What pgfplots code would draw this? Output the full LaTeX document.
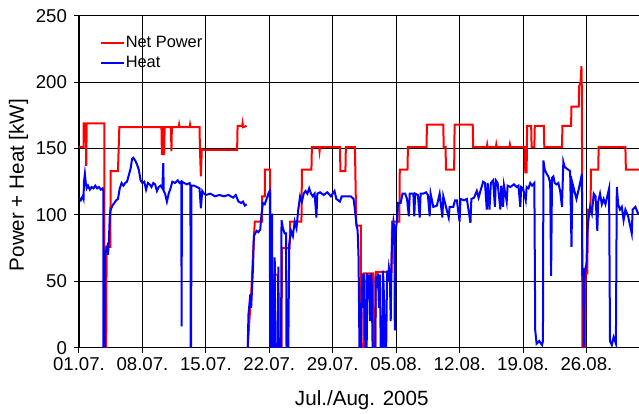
\documentclass[border=0pt]{standalone}
\usepackage{fontspec}
\setmainfont{Liberation Sans}
\usepackage{pgfplots}
\pgfplotsset{compat=1.18}
\definecolor{netred}{RGB}{255,0,0}
\definecolor{heatblue}{RGB}{0,0,255}
\begin{document}
\begin{tikzpicture}
\begin{axis}[
  name=ax,
  scale only axis,
  width=280pt, height=166pt,
  xmin=0, xmax=61.8, ymin=0, ymax=250,
  axis lines=left,
  axis line style={-, line width=0.6pt},
  xtick={0,7,14,21,28,35,42,49,56},
  xticklabels={01.07.,08.07.,15.07.,22.07.,29.07.,05.08.,12.08.,19.08.,26.08.},
  ytick={0,50,100,150,200,250},
  tick align=outside,
  major tick length=2.5pt,
  tick style={black, line width=0.5pt},
  grid=major,
  major grid style={black, line width=0.5pt},
  /pgf/number format/assume math mode=true,
  tick label style={font=\fontsize{9.3}{11}\selectfont},
  xticklabel style={yshift=1pt},
  label style={font=\fontsize{10.3}{12}\selectfont},
  ylabel={Power + Heat [kW]},
  xlabel={Jul./Aug. 2005},
  ylabel style={at={(axis description cs:-0.108,0.49)}, anchor=center},
  xlabel style={at={(axis description cs:0.505,-0.158)}, anchor=center},
  unbounded coords=jump,
  legend style={at={(axis description cs:0.036,0.945)}, anchor=north west,
    draw=none, fill=none, font=\fontsize{8.2}{9}\selectfont,
    row sep=0.8pt, inner xsep=0pt, inner ysep=0pt,
    nodes={inner xsep=0.6pt, inner ysep=1pt}},
  legend cell align=left,
  clip=true,
]
\addplot[netred, line width=1pt, legend image code/.code={\draw[netred, line width=1pt] (0pt,0pt) -- (11.5pt,0pt);}] coordinates {
(0,151) (0.5,151) (0.5,169) (0.75,169) (0.8,137) (0.85,169) (2.8,169) (2.8,0) (3.0,0) (3.05,76) (3.45,76) (3.5,133) (4.3,133) (4.45,166)
(9.1,166) (9.15,145) (9.2,166) (9.35,166) (9.4,145) (9.45,166) (10.15,166) (10.2,148) (10.25,166) (11.0,166) (11.05,168) (11.1,166) (12.2,166) (12.25,168) (12.3,166) (13.3,166) (13.35,149) (13.45,129) (13.55,149) (17.45,149) (17.5,167) (18.0,167) (18.05,169) (18.1,166) (18.5,167)
(18.55,nan)
(18.62,0) (18.8,20) (19.0,40) (19.2,70) (19.4,95) (20.2,95) (20.2,114) (20.5,114) (20.5,134) (21.1,134) (21.15,0) (21.4,0) (21.4,55) (21.95,55) (22.0,0) (22.35,0) (22.4,75) (23.25,75) (23.3,95) (24.55,95) (24.6,134) (25.65,134) (25.7,151) (26.5,151) (26.55,148) (26.6,151) (28.8,151) (28.85,133) (29.4,133) (29.45,151) (30.45,151) (30.6,92) (31.1,92) (31.15,0)
(31.4,0) (31.45,56) (32.45,56) (32.5,0) (32.7,0) (32.75,57) (34.5,57) (34.55,95) (35.35,95) (35.4,134) (36.25,134) (36.3,151) (38.35,151) (38.4,168) (40.2,168) (40.25,151) (40.45,151) (40.5,134) (41.4,134) (41.45,168) (43.45,168) (43.5,151)
(45.0,151) (45.05,153) (45.1,151) (46.0,151) (46.05,153) (46.1,151) (47.5,151) (47.55,153) (47.6,151) (49.2,151) (49.25,132) (49.4,132) (49.45,167) (49.9,167) (49.95,151) (50.25,151) (50.3,167) (51.3,167) (51.35,151) (53.3,151) (53.35,167) (54.3,167) (54.35,181.5) (55.15,181.5) (55.2,197) (55.35,200) (55.45,212) (55.5,190) (55.55,0) (55.85,0) (55.9,56) (56.1,56) (56.15,104) (56.45,104) (56.5,134) (57.3,134) (57.35,151) (60.3,151) (60.35,134) (62,134)
};
\addlegendentry{Net Power}
\addplot[heatblue, line width=1pt, legend image code/.code={\draw[heatblue, line width=1pt] (0pt,0pt) -- (11.5pt,0pt);}] coordinates {
(0,113) (0.2,111) (0.4,114) (0.5,112) (0.55,125) (0.65,131) (0.75,124) (0.85,120) (1.0,122) (1.2,119) (1.4,121) (1.6,120) (1.8,122) (2.0,120) (2.2,121) (2.4,119) (2.6,120) (2.68,118) (2.7,0) (2.85,0) (2.9,72) (3.1,76) (3.2,70) (3.3,80) (3.4,100) (3.5,104) (3.7,107) (3.9,109) (4.1,111) (4.3,112) (4.5,120) (4.7,124) (4.9,122) (5.1,124) (5.3,125) (5.5,130) (5.7,135) (5.85,142) (6.0,143) (6.2,141) (6.4,138) (6.6,134) (6.8,126) (7.0,124) (7.2,125) (7.4,119) (7.6,124) (7.8,123) (8.0,121) (8.2,124) (8.4,123) (8.6,118) (8.8,121) (9.0,122) (9.2,120) (9.3,139) (9.35,118) (9.5,116) (9.7,110) (9.9,116) (10.1,120) (10.3,125) (10.6,124) (10.9,126) (11.1,124) (11.3,125) (11.32,16) (11.36,125) (11.6,124) (11.9,123) (12.2,124) (12.3,122) (12.32,0) (12.38,0) (12.4,122) (12.7,122) (13.0,121) (13.3,120) (13.45,105) (13.6,118) (13.8,116) (14.0,115) (14.5,116) (15.0,114) (15.5,115) (16.0,114) (16.5,115) (17.0,113) (17.3,115) (17.6,110) (17.9,109) (18.1,110) (18.3,107) (18.5,108)
(18.55,nan)
(18.62,0) (18.7,25) (18.8,32) (18.9,40) (19.0,30) (19.1,45) (19.2,60) (19.3,84) (19.45,86) (19.6,88) (19.8,87) (20.0,89) (20.15,101) (20.3,109) (20.5,108) (20.7,112) (20.9,116) (21.05,118) (21.1,0) (21.2,0) (21.3,101) (21.35,0) (21.5,0) (21.6,68) (21.65,0) (21.9,0) (22.0,61) (22.05,0) (22.3,0) (22.35,96) (22.5,90) (22.7,86) (22.85,86) (22.9,0) (23.1,0) (23.2,78) (23.4,88) (23.6,84) (23.8,95) (24.0,90) (24.2,104) (24.4,114) (24.6,110) (24.8,116) (25.0,118) (25.2,116) (25.4,120) (25.6,116) (25.8,114) (26.0,116) (26.2,98) (26.3,116) (26.6,117) (27.0,115) (27.4,117) (27.8,114) (28.2,118) (28.4,112) (28.6,111) (28.8,110) (29.0,114) (29.5,114) (30.0,114) (30.3,112) (30.45,104) (30.6,94) (30.75,88) (30.85,68) (30.95,0) (31.1,0)
(31.2,45) (31.3,56) (31.4,30) (31.5,55) (31.6,0) (31.75,0) (31.8,56) (31.9,40) (32.0,55) (32.1,20) (32.2,56) (32.3,50) (32.4,0) (32.7,0) (32.75,54) (32.9,45) (33.0,56) (33.1,30) (33.2,55) (33.3,0) (33.5,0) (33.55,58) (33.65,40) (33.75,0) (33.9,0) (34.0,58) (34.1,50) (34.2,60) (34.3,55) (34.4,20) (34.5,70) (34.6,88) (34.7,95) (34.8,90) (34.85,13) (34.9,84) (35.0,91) (35.1,96) (35.2,109) (35.5,109) (35.7,116) (36.0,116) (36.2,112) (36.4,99) (36.5,116) (36.9,116) (37.0,99) (37.1,116) (37.4,115) (37.6,98) (37.7,116) (38.0,116) (38.3,117) (38.5,115) (38.7,99) (38.8,116) (39.1,106) (39.5,107) (39.8,116) (40.1,98) (40.2,114) (40.5,106) (40.8,98) (40.9,106) (41.3,106) (41.5,111) (41.7,111) (42.0,95) (42.1,112) (42.5,111) (42.8,112) (43.2,94) (43.3,112) (43.6,113) (43.9,118) (44.1,113) (44.3,118) (44.6,125) (44.8,124) (45.0,104) (45.1,124) (45.3,104) (45.45,124) (45.7,126) (45.9,106) (46.0,126) (46.2,124) (46.5,104) (46.6,122) (46.8,106) (46.9,122) (47.2,110) (47.3,122) (47.6,121) (48.0,123) (48.3,121) (48.5,122) (48.7,106) (48.8,121) (49.0,120) (49.3,111) (49.4,121) (49.6,120) (49.8,124) (50.0,122) (50.25,124) (50.35,13) (50.5,3) (50.8,5) (51.1,2) (51.2,5) (51.25,141) (51.4,134) (51.6,131) (51.8,129) (52.0,124) (52.1,54) (52.2,128) (52.35,129) (52.5,124) (52.7,123) (52.9,124) (53.1,118) (53.3,106) (53.45,140) (53.6,136) (53.8,135) (54.0,134) (54.2,133) (54.35,76) (54.45,124) (54.6,120) (54.75,116) (54.9,112) (55.1,118) (55.3,124) (55.5,131) (55.55,54) (55.65,60) (55.7,0) (55.75,50) (55.85,58) (56.0,63) (56.1,86) (56.2,95) (56.3,101) (56.4,106) (56.6,101) (56.8,116) (57.0,114) (57.2,88) (57.3,110) (57.5,116) (57.7,108) (57.9,112) (58.1,108) (58.3,114) (58.5,120) (58.6,5) (58.8,2) (59.0,8) (59.25,3) (59.35,121) (59.5,108) (59.7,104) (59.9,106) (60.1,96) (60.3,104) (60.6,99) (61.0,86) (61.1,104) (61.4,106) (61.7,101) (62,102)
};
\addlegendentry{Heat}
\end{axis}
\pgfresetboundingbox
\path ([xshift=-39.5pt,yshift=-33.15pt]ax.south west) rectangle ([yshift=7.85pt]ax.north east);
\end{tikzpicture}
\end{document}
